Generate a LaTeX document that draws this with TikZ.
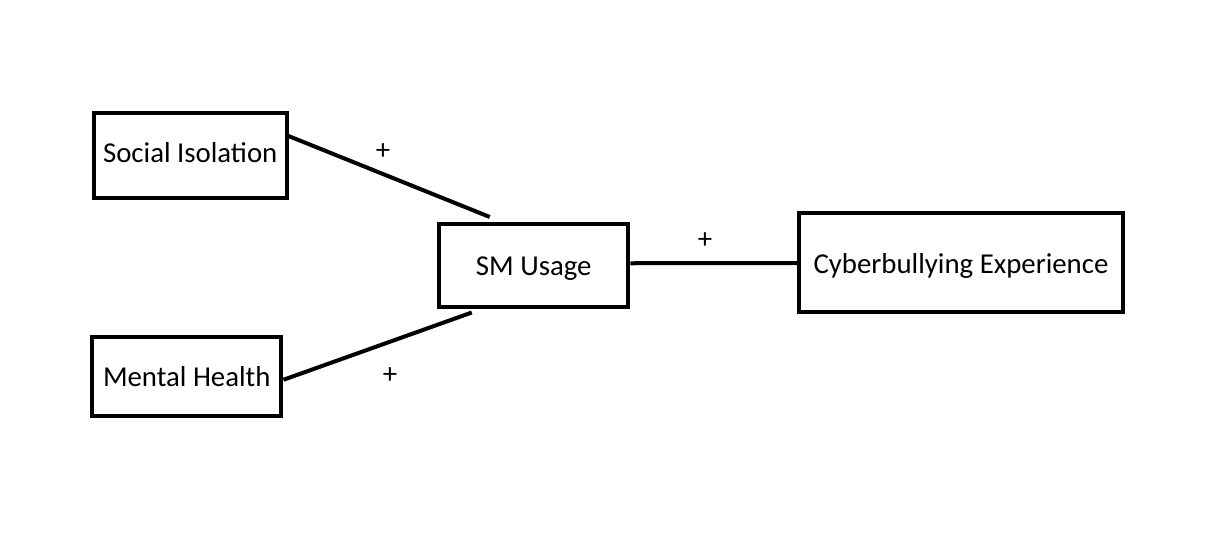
\documentclass[tikz,border=0pt]{standalone}
\usepackage{fontspec}
\setmainfont{Carlito}
\usetikzlibrary{calc}
\tikzset{
  box/.style={draw=black, line width=3pt, inner sep=0pt, font=\fontsize{21.6pt}{24pt}\selectfont},
  link/.style={draw=black, line width=3pt},
  sign/.style={font=\fontsize{21.6pt}{24pt}\selectfont, inner sep=0pt}
}
\begin{document}
\begin{tikzpicture}[x=0.75pt, y=-0.75pt]
\useasboundingbox (0,0) rectangle (1208,540);
\fill[white] (0,0) rectangle (1208,540);
\node[box, minimum width=144.4pt, minimum height=63.75pt, text depth=4.5pt] (si) at (190.25,155) {Social Isolation};
\node[box, minimum width=142.1pt, minimum height=59.6pt] (mh) at (186.75,376.75) {Mental Health};
\node[box, minimum width=142.1pt, minimum height=61.9pt, text height=18.6pt] (sm) at (533.75,265.25) {SM~Usage\hspace{4.5pt}};
\node[box, minimum width=243pt, minimum height=74.25pt, text height=20.1pt] (ce) at (961,262.5) {Cyberbullying Experience};
\coordinate (a1) at ($(si.east)+(0,-19)$);
\coordinate (a2) at ($(sm.north)+(-44,-5)$);
\coordinate (b1) at ($(mh.east)+(0,3)$);
\coordinate (b2) at ($(sm.south)+(-62,4)$);
\coordinate (c1) at ($(sm.east)+(0,-2)$);
\coordinate (c2) at ($(ce.west)+(2,0.5)$);
\draw[link] (a1) -- (a2);
\draw[link] (b1) -- (b2);
\draw[link] (c1) -- (c2);
\node[sign] (p1) at (383,152) {+};
\node[sign] (p2) at (705,241) {+};
\node[sign] (p3) at (390,376) {+};
\end{tikzpicture}
\end{document}
